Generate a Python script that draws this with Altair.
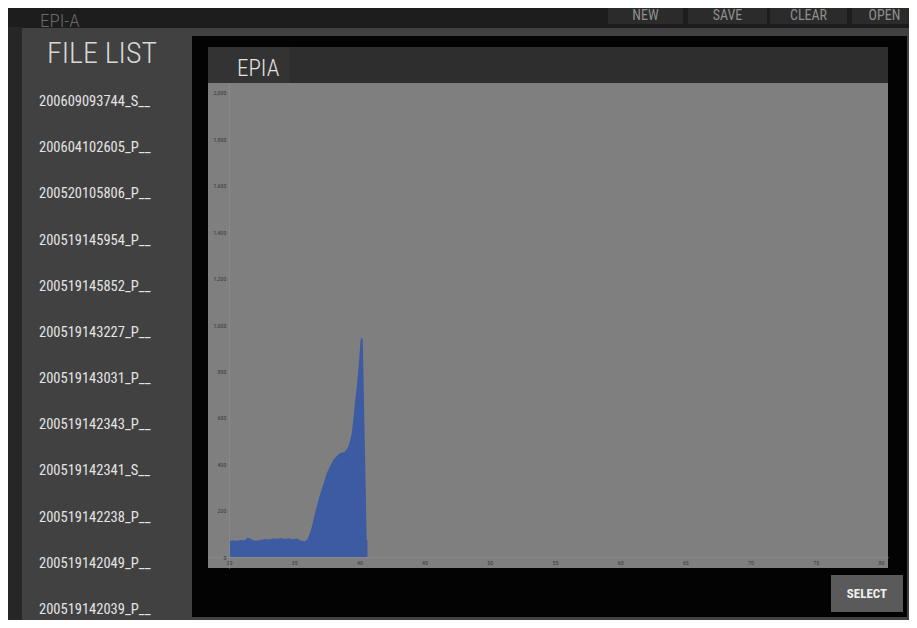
import altair as alt
import pandas as pd

# ---------------- data ----------------
x_vals = [30.0, 30.3, 30.6, 30.9, 31.2, 31.45, 31.7, 31.9, 32.2, 32.5, 32.8, 33.1, 33.4,
          33.7, 34.0, 34.3, 34.6, 34.9, 35.2, 35.5, 35.8, 36.0, 36.2, 36.35, 36.47, 36.6,
          36.72, 36.9, 37.1, 37.3, 37.49, 37.75, 38.0, 38.25, 38.51, 38.75, 38.9, 39.15,
          39.3, 39.41, 39.55, 39.66, 39.8, 39.92, 40.02, 40.1, 40.2, 40.26, 40.56, 40.62]
y_vals = [68, 72, 70, 74, 73, 84, 78, 72, 71, 75, 78, 76, 80,
          79, 82, 78, 81, 77, 80, 72, 68, 76, 102, 130, 159, 190,
          217, 255, 290, 325, 361, 392, 418, 435, 447, 452, 455, 475,
          505, 533, 600, 662, 735, 806, 880, 940, 945, 935, 75, 72]

x_ticks = [30, 35, 40, 45, 50, 55, 60, 65, 70, 75, 80]
y_ticks = [0, 200, 400, 600, 800, 1000, 1200, 1400, 1600, 1800, 2000]

file_names = ["200609093744_S__", "200604102605_P__", "200520105806_P__",
              "200519145954_P__", "200519145852_P__", "200519143227_P__",
              "200519143031_P__", "200519142343_P__", "200519142341_S__",
              "200519142238_P__", "200519142049_P__", "200519142039_P__"]

buttons = ["NEW", "SAVE", "CLEAR", "OPEN"]

# ---------------- layout / style ----------------
FONT = "Roboto Condensed, Liberation Sans Narrow, DejaVu Sans Condensed, Roboto, sans-serif"
W, H = 901, 612
one = alt.Data(values=[{"k": 0}])


def box(x0, x1, y0, y1, color):
    return alt.Chart(one).mark_rect(color=color, opacity=1).encode(
        x=alt.value(x0), x2=alt.value(x1), y=alt.value(y0), y2=alt.value(y1))


def label(txt, x, y, size, color, align="center", weight="normal", baseline="alphabetic"):
    return alt.Chart(one).mark_text(text=txt, font=FONT, fontSize=size, color=color,
                                    align=align, baseline=baseline, fontWeight=weight).encode(
        x=alt.value(x), y=alt.value(y))


btn_boxes = [(600, 675), (680, 759), (762, 839), (844, 909)]

layers = []
# left strip of the underlying screen
layers.append(box(0, 14, 19, H, "#262626"))
# top bar buttons
for (bx0, bx1), name in zip(btn_boxes, buttons):
    layers.append(box(bx0, bx1, 0, 16, "#2b2b2b"))
    layers.append(label(name, (bx0 + bx1) / 2, 12, 14, "#8f8f8f"))
# dialog panel
layers.append(box(14, 909, 20, H, "#414141"))
layers.append(label("EPI-A", 32, 19, 19, "#6a6a6a", align="left", weight=300))
layers.append(label("FILE LIST", 94, 55, 30, "#d8d8d8", weight=300))
# chart frame
layers.append(box(184, 899, 28, 609, "#030303"))
layers.append(box(200, 880, 39, 75, "#2e2e2e"))
layers.append(box(200, 282, 39, 75, "#333333"))
layers.append(label("EPIA", 229, 68, 23, "#e2e2e2", align="left", weight=300))
layers.append(box(200, 880, 75, 560, "#7f7f7f"))
# select button
layers.append(box(823, 895, 567, 604, "#5a5a5a"))
layers.append(label("SELECT", 859, 586, 13, "#f0f0f0", weight="bold", baseline="middle"))

# file list entries
files_df = pd.DataFrame({"name": file_names})
layers.append(
    alt.Chart(files_df).mark_text(align="left", baseline="middle", font=FONT,
                                  fontSize=14.5, color="#e4e4e4").encode(
        x=alt.value(31),
        y=alt.Y("name:N", sort=None, axis=None,
                scale=alt.Scale(type="point", range=[94, 602], padding=0)),
        text="name:N")
)

# the EPIA signal
df = pd.DataFrame({"x": x_vals, "y": y_vals})
area = alt.Chart(df).mark_area(color="#3d5ba3", opacity=1, interpolate="linear").encode(
    x=alt.X("x:Q", title=None,
            scale=alt.Scale(domain=[28.39, 80.54], range=[200, 880], nice=False, zero=False),
            axis=alt.Axis(values=x_ticks, format="d", offset=-63, ticks=False,
                          domain=True, domainColor="#888888", domainWidth=1,
                          labelFontSize=6, labelColor="#3a3a3a", labelPadding=2,
                          labelFont=FONT, grid=False, zindex=1, labelOverlap=False)),
    y=alt.Y("y:Q", title=None,
            scale=alt.Scale(domain=[-47, 2043], range=[560, 75], nice=False, zero=False),
            axis=alt.Axis(values=y_ticks, format=",d", offset=-221, ticks=False,
                          domain=True, domainColor="#888888", domainWidth=1,
                          labelFontSize=6, labelColor="#3a3a3a", labelPadding=3,
                          labelFont=FONT, grid=False, zindex=1, labelOverlap=False)),
    y2=alt.datum(0),
)
layers.append(area)

chart = alt.layer(*layers).resolve_scale(y="independent").properties(
    width=W, height=H, padding=0,
    autosize=alt.AutoSizeParams(type="none"),
    background="#1d1d1d",
).configure_view(stroke=None)

chart.save("out.html", embed_options={"renderer": "svg", "actions": False})
